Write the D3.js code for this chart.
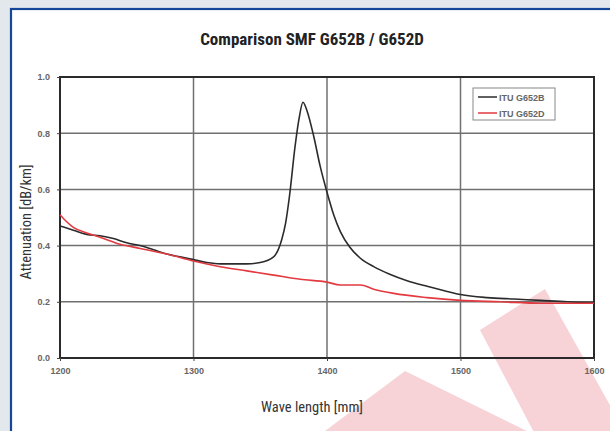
<!DOCTYPE html>
<html><head><meta charset="utf-8">
<script src="https://cdn.jsdelivr.net/npm/d3@7"></script>
<style>
html,body{margin:0;padding:0;background:#e3e8ed;}
svg{display:block;}
</style></head>
<body><svg id="c" width="610" height="431"></svg>
<script>
const xTicks = [1200, 1300, 1400, 1500, 1600];
const yTicks = [0.0, 0.2, 0.4, 0.6, 0.8, 1.0];
const seriesNames = ["ITU G652B", "ITU G652D"];
const g652bWave = [1200,1210,1220,1230,1240,1250,1260,1270,1280,1290,1300,1310,1320,1330,1340,1350,1360,1366,1369,1372,1376,1379,1382,1385,1390,1395,1400,1405,1410,1417,1425,1435,1447,1460,1475,1490,1500,1520,1540,1560,1580,1600];
const g652bAtt  = [0.47,0.455,0.44,0.435,0.425,0.41,0.40,0.385,0.37,0.36,0.35,0.34,0.335,0.335,0.335,0.34,0.36,0.42,0.48,0.58,0.75,0.85,0.91,0.88,0.79,0.68,0.59,0.51,0.45,0.395,0.355,0.325,0.298,0.275,0.255,0.237,0.226,0.215,0.21,0.205,0.20,0.197];
const g652dWave = [1200,1205,1210,1220,1230,1245,1260,1280,1300,1320,1340,1360,1380,1400,1410,1425,1435,1450,1475,1500,1530,1560,1600];
const g652dAtt  = [0.51,0.485,0.465,0.445,0.43,0.405,0.39,0.37,0.345,0.325,0.31,0.295,0.28,0.27,0.26,0.26,0.245,0.23,0.215,0.205,0.20,0.195,0.195];
const titleText = "Comparison SMF G652B / G652D";
const xTitle = "Wave length [mm]";
const yTitle = "Attenuation [dB/km]";

const svg = d3.select("#c");
// panel
svg.append("rect").attr("x",11).attr("y",9).attr("width",620).attr("height",440)
  .attr("fill","#ffffff").attr("stroke","#14479a").attr("stroke-width",2.2);

// watermark
const wm = svg.append("g").attr("fill","#f7d3d7");
wm.append("path").attr("d","M405,371 L545,440 L313,440 Z");
wm.append("path").attr("d","M480,330 L545,289 L620,423 L620,440 L538,440 Z");

const x = d3.scaleLinear().domain([1200,1600]).range([60,594]);
const y = d3.scaleLinear().domain([0,1]).range([358,77]);

const grid = svg.append("g");
grid.selectAll("line.h").data(yTicks.filter(d=>d>0 && d<1)).join("line")
  .attr("x1",x(1200)).attr("x2",x(1600)).attr("y1",d=>y(d)).attr("y2",d=>y(d))
  .attr("stroke","#707070").attr("stroke-width",1.5);
grid.selectAll("line.v").data(xTicks.filter(d=>d>1200 && d<1600)).join("line")
  .attr("y1",y(0)).attr("y2",y(1)).attr("x1",d=>x(d)).attr("x2",d=>x(d))
  .attr("stroke","#707070").attr("stroke-width",1.5);

// frame
svg.append("rect").attr("x",x(1200)).attr("y",y(1)).attr("width",x(1600)-x(1200)).attr("height",y(0)-y(1))
  .attr("fill","none").attr("stroke","#2a2a2a").attr("stroke-width",2);

const tickFont = "'Liberation Sans', Arial, sans-serif";
const xAxis = svg.append("g").attr("transform",`translate(0,${y(0)})`)
  .call(d3.axisBottom(x).tickValues(xTicks).tickFormat(d3.format("d")).tickSize(3).tickPadding(7));
const yAxis = svg.append("g").attr("transform",`translate(${x(1200)},0)`)
  .call(d3.axisLeft(y).tickValues(yTicks).tickFormat(d3.format(".1f")).tickSize(3).tickPadding(7));
[xAxis,yAxis].forEach(a=>{
  a.select(".domain").remove();
  a.selectAll("line").attr("stroke","#444");
  a.selectAll("text").attr("font-family",tickFont)
   .attr("font-size",9).attr("font-weight","bold").attr("fill","#666");
});

const bData = g652bWave.map((w,i)=>[w,g652bAtt[i]]);
const dData = g652dWave.map((w,i)=>[w,g652dAtt[i]]);
svg.append("path").datum(bData).attr("d",d3.line().x(d=>x(d[0])).y(d=>y(d[1])).curve(d3.curveMonotoneX))
  .attr("fill","none").attr("stroke","#2b2b2b").attr("stroke-width",1.6);
svg.append("path").datum(dData).attr("d",d3.line().x(d=>x(d[0])).y(d=>y(d[1])).curve(d3.curveMonotoneX))
  .attr("fill","none").attr("stroke","#e23a40").attr("stroke-width",1.6);

// legend
const lg = svg.append("g");
lg.append("rect").attr("x",473).attr("y",88).attr("width",82).attr("height",32)
  .attr("fill","#fff").attr("stroke","#888").attr("stroke-width",1);
const colors = ["#2b2b2b","#e23a40"];
seriesNames.forEach((n,i)=>{
  const yy = 97 + i*16;
  lg.append("line").attr("x1",478).attr("x2",497).attr("y1",yy).attr("y2",yy).attr("stroke",colors[i]).attr("stroke-width",1.5);
  lg.append("text").attr("x",499).attr("y",yy+3.5).text(n)
    .attr("font-family",tickFont).attr("font-size",9).attr("font-weight","bold").attr("fill","#666");
});

// titles
const cond = "'Liberation Sans Narrow', 'Roboto Condensed', 'Open Sans', sans-serif";
svg.append("text").attr("x",312).attr("y",45).attr("text-anchor","middle").text(titleText)
  .attr("font-family",cond).attr("font-weight","bold").attr("font-size",17).attr("fill","#222");
svg.append("text").attr("x",312).attr("y",412).attr("text-anchor","middle").text(xTitle)
  .attr("font-family",cond).attr("font-size",14.5).attr("fill","#333");
svg.append("text").attr("transform","translate(31,222) rotate(-90)").attr("text-anchor","middle").text(yTitle)
  .attr("font-family",cond).attr("font-size",14.5).attr("fill","#333");
</script></body></html>
